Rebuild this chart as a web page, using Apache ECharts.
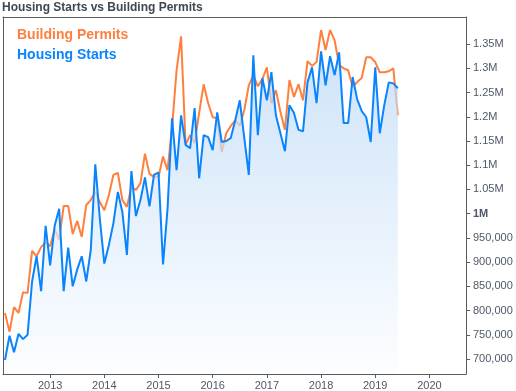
<!DOCTYPE html>
<html>
<head>
<meta charset="utf-8">
<script src="https://cdn.jsdelivr.net/npm/echarts@6/dist/echarts.min.js"></script>
<style>
html,body{margin:0;padding:0;background:#fff;}
#chart{width:516px;height:391px;}
</style>
</head>
<body>
<div id="chart"></div>
<script>
// Monthly observations, March 2012 .. June 2019 (thousands of units, SAAR)
const firstMonth = [2012, 3];
const housingStarts = [
  698, 748, 714, 752, 741, 750, 860, 912, 840, 975,
  893, 975, 1010, 840, 930, 850, 885, 912, 860, 925,
  1102, 990, 897, 935, 980, 1045, 1003, 915, 1088, 995,
  1028, 1075, 1015, 1080, 1085, 895, 1010, 1197, 1090, 1203,
  1142, 1135, 1218, 1073, 1162, 1158, 1131, 1209, 1148, 1150,
  1156, 1193, 1234, 1156, 1080, 1327, 1162, 1280, 1234, 1292,
  1203, 1166, 1129, 1224, 1208, 1173, 1170, 1271, 1302, 1228,
  1335, 1265, 1325, 1286, 1333, 1187, 1187, 1282, 1236, 1212,
  1199, 1148, 1302, 1166, 1224, 1271, 1269, 1259
];
const buildingPermits = [
  795, 756, 807, 795, 838, 836, 923, 912, 931, 941,
  933, 968, 946, 1016, 1016, 958, 985, 952, 1018, 1028,
  1045, 1024, 1007, 1038, 1080, 1084, 1028, 1014, 1055, 1049,
  1063, 1124, 1082, 1076, 1076, 1118, 1090, 1177, 1296, 1366,
  1142, 1162, 1146, 1208, 1267, 1228, 1199, 1197, 1127, 1166,
  1181, 1193, 1181, 1214, 1265, 1286, 1263, 1278, 1302, 1228,
  1255, 1210, 1173, 1276, 1241, 1267, 1234, 1315, 1305, 1313,
  1379, 1338, 1379, 1358, 1307, 1300, 1296, 1261, 1272, 1280,
  1323, 1323, 1313, 1292, 1292, 1294, 1300, 1203
];
const yearTicks = [2013, 2014, 2015, 2016, 2017, 2018, 2019, 2020];
const valueTicks = [700000, 750000, 800000, 850000, 900000, 950000, 1000000,
  1050000, 1100000, 1150000, 1200000, 1250000, 1300000, 1350000];
const seriesNames = ['Building Permits', 'Housing Starts'];

// x position of each month, in fractional years
const monthX = housingStarts.map((_, i) => firstMonth[0] + (firstMonth[1] - 1 + i) / 12);
const startsData = housingStarts.map((v, i) => [monthX[i], v * 1000]);
const permitsData = buildingPermits.map((v, i) => [monthX[i], v * 1000]);

const orange = '#ff7f3e';
const blue = '#0a84fd';
const labelColor = '#4e5868';
const frameColor = '#5c5c5c';
const font = '"Liberation Sans", Arial, sans-serif';
const xMin = 2012.13, xMax = 2020.675;
const yMin = 669000, yMax = 1406000;

const frameAxis = {
  z: 10,
  axisLine: {show: true, onZero: false, lineStyle: {color: frameColor}},
  axisTick: {show: false},
  axisLabel: {show: false},
  splitLine: {show: false}
};

const chart = echarts.init(document.getElementById('chart'), null, {renderer: 'canvas'});
chart.setOption({
  animation: false,
  backgroundColor: '#ffffff',
  title: {
    text: 'Housing Starts vs Building Permits',
    left: 0, top: 1,
    padding: [1, 2],
    textStyle: {fontFamily: font, fontSize: 12, fontWeight: 'bold', color: '#3d4852'}
  },
  legend: {
    orient: 'vertical',
    left: 7, top: 23,
    itemWidth: 0, itemHeight: 0, itemGap: 6,
    icon: 'rect',
    selectedMode: false,
    data: [
      {name: seriesNames[0], textStyle: {color: orange}},
      {name: seriesNames[1], textStyle: {color: blue}}
    ],
    textStyle: {fontFamily: font, fontSize: 14, fontWeight: 'bold', lineHeight: 14}
  },
  grid: {left: 3, right: 50, top: 17, bottom: 17, show: false},
  xAxis: [
    {
      type: 'value',
      z: 10,
      position: 'bottom',
      min: xMin, max: xMax,
      axisLine: {show: true, onZero: false, lineStyle: {color: frameColor}},
      axisTick: {show: true, length: 4, inside: false, customValues: yearTicks, lineStyle: {color: frameColor}},
      axisLabel: {
        customValues: yearTicks,
        margin: 6,
        color: labelColor, fontFamily: font, fontSize: 11,
        formatter: v => String(Math.round(v))
      },
      splitLine: {show: false}
    },
    Object.assign({type: 'value', position: 'top', min: xMin, max: xMax}, frameAxis)
  ],
  yAxis: [
    {
      type: 'value',
      z: 10,
      position: 'right',
      min: yMin, max: yMax,
      axisLine: {show: true, onZero: false, lineStyle: {color: frameColor}},
      axisTick: {show: true, length: 4, inside: false, customValues: valueTicks, lineStyle: {color: frameColor}},
      axisLabel: {
        customValues: valueTicks,
        margin: 7,
        color: labelColor, fontFamily: font, fontSize: 11,
        formatter: v => {
          if (v === 1000000) return '{b|1M}';
          if (v > 1000000) return (v / 1000000) + 'M';
          return v.toLocaleString('en-US');
        },
        rich: {b: {fontWeight: 'bold', color: labelColor, fontFamily: font, fontSize: 11}}
      },
      splitLine: {show: false}
    },
    Object.assign({type: 'value', position: 'left', min: yMin, max: yMax}, frameAxis)
  ],
  series: [
    {
      name: seriesNames[1],
      type: 'line',
      xAxisIndex: 0, yAxisIndex: 0,
      data: startsData,
      showSymbol: false,
      z: 3,
      lineStyle: {color: blue, width: 2},
      itemStyle: {color: blue},
      areaStyle: {
        color: new echarts.graphic.LinearGradient(0, 0, 0, 1, [
          {offset: 0, color: '#bad8f6'},
          {offset: 1, color: '#fbfdff'}
        ])
      }
    },
    {
      name: seriesNames[0],
      type: 'line',
      xAxisIndex: 0, yAxisIndex: 0,
      data: permitsData,
      showSymbol: false,
      z: 2,
      lineStyle: {color: orange, width: 2},
      itemStyle: {color: orange}
    }
  ]
});
</script>
</body>
</html>
